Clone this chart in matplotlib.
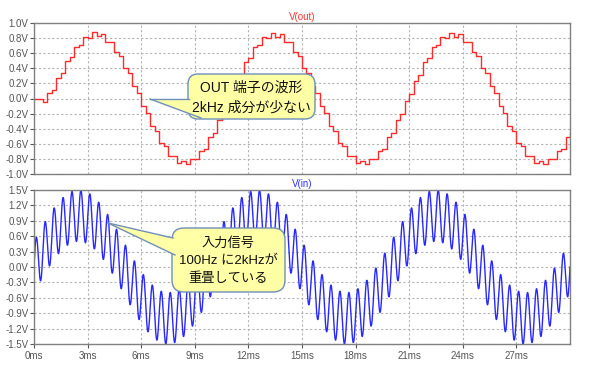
import numpy as np
import matplotlib
matplotlib.use('Agg')
import matplotlib.pyplot as plt
from matplotlib.patches import FancyBboxPatch, Polygon
from matplotlib.lines import Line2D

plt.rcParams['font.family'] = ['Liberation Sans', 'Noto Sans CJK JP', 'DejaVu Sans']

# --- values ---
t_end_ms = 30.0
# V(in): 100 Hz sine with a 2 kHz component on top
in_freqs_hz = [100, 2000]
in_amps_v = [1.0, 0.5]
# V(out): filtered 100 Hz with a small 2 kHz residue, lagging the input,
# drawn as a staircase (held every 0.25 ms)
out_freqs_hz = [100, 2000]
out_amps_v = [0.85, 0.03]
out_lag_ms = [0.85, 0.08]
out_hold_ms = 0.25
out_start_v = 0.0          # trace starts at 0 V
out_settle_ms = 0.5        # start-up transient dies out within ~2 ms

out_yticks = [1.0, 0.8, 0.6, 0.4, 0.2, 0.0, -0.2, -0.4, -0.6, -0.8, -1.0]
in_yticks = [1.5, 1.2, 0.9, 0.6, 0.3, 0.0, -0.3, -0.6, -0.9, -1.2, -1.5]
x_ticks_ms = [0, 3, 6, 9, 12, 15, 18, 21, 24, 27]

note_out = 'OUT 端子の波形\n2kHz 成分が少ない'
note_in = '入力信号\n100Hz に2kHzが\n重畳している'

# --- build the traces ---
t = np.linspace(0, t_end_ms, 6001)
v_in = sum(a * np.sin(2 * np.pi * f * t / 1000) for f, a in zip(in_freqs_hz, in_amps_v))

t_out = np.arange(0, t_end_ms + out_hold_ms, out_hold_ms)
v_out = sum(a * np.sin(2 * np.pi * f * (t_out - lag) / 1000)
            for f, a, lag in zip(out_freqs_hz, out_amps_v, out_lag_ms))
v_out = v_out + (out_start_v - v_out[0]) * np.exp(-t_out / out_settle_ms)

W, H = 600, 379
fig = plt.figure(figsize=(W / 100, H / 100), dpi=100)


def px(x, y):
    return x / W, 1 - y / H


def panel(top, bottom):
    return fig.add_axes([34 / W, 1 - bottom / H, 536 / W, (bottom - top) / H])


ax1 = panel(23, 174)
ax2 = panel(190, 344)

tick_col = '#555555'
for ax, ticks, lim in [(ax1, out_yticks, 1.0), (ax2, in_yticks, 1.5)]:
    ax.set_xlim(0, t_end_ms)
    ax.set_ylim(-lim, lim)
    ax.set_yticks(ticks)
    ax.set_yticklabels(['%.1fV' % v for v in ticks])
    ax.set_xticks(x_ticks_ms)
    ax.grid(True, color='#b4b4b4', linestyle=(0, (2, 2)), linewidth=0.8)
    ax.tick_params(axis='y', direction='out', length=3, width=0.8, colors=tick_col,
                   labelsize=7, pad=1)
    ax.tick_params(axis='x', direction='out', length=3, width=0.8, colors=tick_col,
                   labelsize=7, pad=2)
    for s in ax.spines.values():
        s.set_color('#808080')
        s.set_linewidth(1.0)

ax1.tick_params(axis='x', length=0, labelbottom=False)
ax2.set_xticklabels(['%dms' % v for v in x_ticks_ms])

ax1.plot(t_out, v_out, color='#ff2a2a', linewidth=1.0, drawstyle='steps-post')
ax2.plot(t, v_in, color='#2828ff', linewidth=1.0)

ax1.set_title('V(out)', color='#ff3030', fontsize=7, pad=2)
ax2.set_title('V(in)', color='#3030ff', fontsize=7, pad=2)


def callout(x0, y0, x1, y1, tip, base_a, base_b, text, rad, size, spacing):
    fc = '#ffffa6'
    ec = '#6f8fb8'
    box = FancyBboxPatch((x0, H - y1), x1 - x0, y1 - y0,
                         boxstyle='round,pad=0,rounding_size=%d' % rad,
                         transform=None, facecolor=fc, edgecolor=ec, linewidth=1.0)
    fig.patches.append(box)
    cx, cy = (x0 + x1) / 2, (y0 + y1) / 2
    inner = (cx * 0.3 + (base_a[0] + base_b[0]) / 2 * 0.7,
             cy * 0.3 + (base_a[1] + base_b[1]) / 2 * 0.7)
    wedge = Polygon([px(*tip), px(*base_a), px(*inner), px(*base_b)],
                    closed=True, transform=fig.transFigure, facecolor=fc, edgecolor='none')
    fig.patches.append(wedge)
    for b in (base_a, base_b):
        (xa, ya), (xb, yb) = px(*tip), px(*b)
        fig.lines.append(Line2D([xa, xb], [ya, yb], transform=fig.transFigure,
                                color=ec, linewidth=1.0))
    fig.text(*px(cx, cy + 1), text, ha='center', va='center', fontsize=size,
             linespacing=spacing, color='#111111',
             family=['Liberation Sans', 'Noto Sans CJK JP'])


callout(188, 74, 315, 119, (150, 99), (189, 99), (201, 118), note_out, 10, 10, 1.55)
callout(172, 228, 285, 292, (108, 223), (173, 238), (175, 255), note_in, 12, 9.5, 1.6)

fig.savefig('out.png', dpi=100)
